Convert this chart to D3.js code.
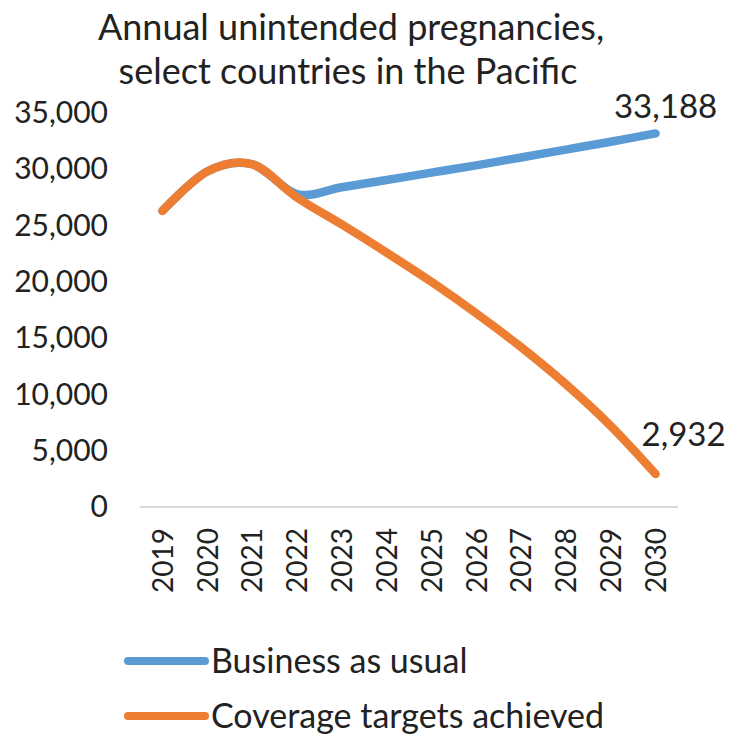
<!DOCTYPE html>
<html>
<head>
<meta charset="utf-8">
<script src="https://cdn.jsdelivr.net/npm/d3@7"></script>
<style>
  body { margin: 0; background: #fff; }
  text { font-family: Lato, "Noto Sans", sans-serif; fill: #222; }
</style>
</head>
<body>
<div id="chart"></div>
<script>
const years = ["2019", "2020", "2021", "2022", "2023", "2024", "2025", "2026", "2027", "2028", "2029", "2030"];
const businessAsUsual = [26300, 29800, 30450, 27800, 28400, 29050, 29700, 30350, 31050, 31750, 32450, 33188];
const coverageTargets = [26300, 29800, 30450, 27500, 25100, 22600, 20000, 17200, 14200, 10900, 7200, 2932];
const yTicks = [0, 5000, 10000, 15000, 20000, 25000, 30000, 35000];
const seriesNames = ["Business as usual", "Coverage targets achieved"];
const seriesColors = ["#5b9bd5", "#ed7d31"];

const width = 730, height = 735;
const svg = d3.select("#chart").append("svg")
    .attr("width", width)
    .attr("height", height);

const x = d3.scalePoint().domain(years).range([140, 678]).padding(0.5);
const y = d3.scaleLinear().domain([0, 35000]).range([507, 113]);
const fmt = d3.format(",");

// title
svg.append("text")
    .attr("x", 351).attr("y", 40)
    .attr("text-anchor", "middle")
    .style("font-size", "36px")
    .text("Annual unintended pregnancies,");
svg.append("text")
    .attr("x", 348).attr("y", 84)
    .attr("text-anchor", "middle")
    .style("font-size", "36px")
    .text("select countries in the Pacific");

// y axis labels, no line
const yAxis = svg.append("g")
    .attr("transform", "translate(108,0)")
    .call(d3.axisLeft(y).tickValues(yTicks).tickFormat(fmt).tickSize(0).tickPadding(0));
yAxis.select(".domain").remove();
yAxis.selectAll("text").style("font-size", "30px").attr("fill", "#222");

// x axis
const xAxis = svg.append("g")
    .attr("transform", "translate(0,507)")
    .call(d3.axisBottom(x).tickSize(0).tickSizeOuter(0));
xAxis.select(".domain").attr("stroke", "#d9d9d9").attr("stroke-width", 2)
    .attr("d", "M140,0H678");
xAxis.selectAll(".tick text")
    .style("font-size", "28px")
    .attr("fill", "#222")
    .attr("transform", "rotate(-90)")
    .attr("text-anchor", "end")
    .attr("dy", "0.35em")
    .attr("x", -21)
    .attr("y", 0);

// lines
const line = d3.line()
    .x((d, i) => x(years[i]))
    .y(d => y(d))
    .curve(d3.curveCardinal.tension(0));

[businessAsUsual, coverageTargets].forEach((vals, k) => {
    svg.append("path")
        .datum(vals)
        .attr("d", line)
        .attr("fill", "none")
        .attr("stroke", seriesColors[k])
        .attr("stroke-width", 8.5)
        .attr("stroke-linecap", "round")
        .attr("stroke-linejoin", "round");
});

// end labels
const last = years.length - 1;
svg.append("text")
    .attr("x", x(years[last]) + 10)
    .attr("y", y(businessAsUsual[last]) - 15)
    .attr("text-anchor", "middle")
    .style("font-size", "33px")
    .text(fmt(businessAsUsual[last]));
svg.append("text")
    .attr("x", x(years[last]) - 14)
    .attr("y", y(coverageTargets[last]) - 28)
    .style("font-size", "33px")
    .text(fmt(coverageTargets[last]));

// legend
const legend = svg.append("g");
seriesNames.forEach((name, k) => {
    const ly = 661 + k * 55;
    legend.append("line")
        .attr("x1", 128).attr("x2", 205)
        .attr("y1", ly).attr("y2", ly)
        .attr("stroke", seriesColors[k])
        .attr("stroke-width", 8)
        .attr("stroke-linecap", "round");
    legend.append("text")
        .attr("x", 211).attr("y", ly)
        .attr("dy", "0.35em")
        .style("font-size", "34px")
        .text(name);
});
</script>
</body>
</html>
